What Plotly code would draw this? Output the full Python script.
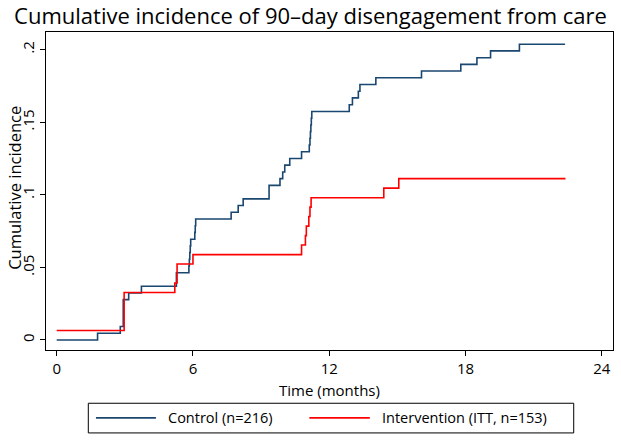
import plotly.graph_objects as go

# Control (n=216)
control_t = [0, 1.80, 2.80, 2.93, 3.17, 3.73, 5.27, 5.82, 5.84, 5.86, 5.88, 5.90, 6.08, 6.10, 6.12,
             7.68, 7.99, 8.21, 9.35, 9.83, 9.95, 10.04, 10.26, 10.78, 11.12, 11.15, 11.17, 11.19,
             11.21, 11.23, 12.88, 13.02, 13.28, 13.35, 14.05, 16.06, 17.79, 18.50, 19.10, 20.37, 22.38]
control_ci = [0, 0.0046, 0.0093, 0.0278, 0.0324, 0.0370, 0.0463, 0.0509, 0.0556, 0.0602, 0.0648,
              0.0694, 0.0741, 0.0787, 0.0833, 0.0880, 0.0926, 0.0972, 0.1065, 0.1111, 0.1157,
              0.1204, 0.1250, 0.1296, 0.1343, 0.1389, 0.1435, 0.1481, 0.1528, 0.1574, 0.1620,
              0.1667, 0.1713, 0.1759, 0.1806, 0.1852, 0.1898, 0.1944, 0.1991, 0.2037, 0.2037]

# Intervention (ITT, n=153)
interv_t = [0, 2.97, 5.20, 5.30, 6.00, 10.78, 10.95, 10.99, 11.10, 11.15, 11.20, 14.40, 15.06, 22.40]
interv_ci = [0.0065, 0.0327, 0.0392, 0.0523, 0.0588, 0.0654, 0.0719, 0.0784, 0.0850, 0.0915,
             0.0980, 0.1046, 0.1111, 0.1111]

series_names = ["Control (n=216)", "Intervention (ITT, n=153)"]
series_colors = ["#1a476f", "#ff0000"]

x_ticks = [0, 6, 12, 18, 24]
y_ticks = [0, 0.05, 0.1, 0.15, 0.2]
y_ticktext = ["0", ".05", ".1", ".15", ".2"]

FONT = "Open Sans"

fig = go.Figure()
fig.add_trace(go.Scatter(x=control_t, y=control_ci, mode="lines", line_shape="hv",
                         line=dict(color=series_colors[0], width=1.6), name=series_names[0],
                         showlegend=False))
fig.add_trace(go.Scatter(x=interv_t, y=interv_ci, mode="lines", line_shape="hv",
                         line=dict(color=series_colors[1], width=1.6), name=series_names[1],
                         showlegend=False))

# Stata-style legend box below the plot (paper coordinates)
leg_y = -0.2136
fig.add_shape(type="rect", xref="paper", yref="paper", x0=0.0746, x1=0.9307, y0=-0.2608, y1=-0.1675,
              line=dict(color="black", width=1), fillcolor="white")
leg_line_x = [(0.0881, 0.1939), (0.4645, 0.5711)]
leg_text_x = [0.2115, 0.5888]
for (lx0, lx1), tx, name, col in zip(leg_line_x, leg_text_x, series_names, series_colors):
    fig.add_shape(type="line", xref="paper", yref="paper", x0=lx0, x1=lx1, y0=leg_y, y1=leg_y,
                  line=dict(color=col, width=1.6))
    fig.add_annotation(text=name, xref="paper", yref="paper", x=tx, y=leg_y, xanchor="left",
                       yanchor="middle", showarrow=False, font=dict(size=14.5, family=FONT))

# Axis titles
fig.add_annotation(text="Time (months)", xref="paper", yref="paper", x=0.5, y=-0.127,
                   xanchor="center", yanchor="middle", showarrow=False,
                   font=dict(size=15, family=FONT))
fig.add_annotation(text="Cumulative incidence", xref="paper", yref="paper", x=-0.0546, y=0.51,
                   xanchor="center", yanchor="middle", textangle=-90, showarrow=False,
                   font=dict(size=16.5, family=FONT))

fig.update_layout(
    width=621, height=441,
    margin=dict(l=46, r=8, t=32, b=91),
    paper_bgcolor="white", plot_bgcolor="white",
    font=dict(family=FONT, color="black", size=15),
    title=dict(text="Cumulative incidence of 90\u2013day disengagement from care",
               x=0.5, xanchor="center", yref="container", y=0.962, yanchor="middle",
               font=dict(size=22, family=FONT, color="black"), automargin=False),
    showlegend=False,
    xaxis=dict(range=[-0.47, 24.49], tickvals=x_ticks, ticks="outside", ticklen=5,
               tickcolor="black", showline=True, linecolor="black", linewidth=1, mirror=True,
               showgrid=False, zeroline=False, automargin=False, tickfont=dict(size=15)),
    yaxis=dict(range=[-0.0069, 0.2121], tickvals=y_ticks, ticktext=y_ticktext, tickangle=-90,
               ticks="outside", ticklen=5, tickcolor="black", showline=True, linecolor="black",
               linewidth=1, mirror=True, showgrid=False, zeroline=False, automargin=False,
               tickfont=dict(size=15)),
)

fig.write_html("out.html", config={"displayModeBar": False},
               post_script="document.body.style.margin='0px';")
